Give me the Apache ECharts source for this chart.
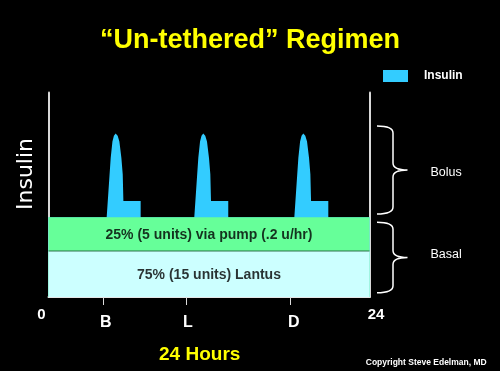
<!DOCTYPE html>
<html><head><meta charset="utf-8">
<script src="https://cdn.jsdelivr.net/npm/echarts@6/dist/echarts.min.js"></script>
<style>html,body{margin:0;padding:0;background:#000;}#c{width:500px;height:371px;}</style>
</head><body><div id="c"></div>
<script>
// ---- text ----
const titleText = '\u201CUn-tethered\u201D Regimen';
const xAxisTitle = '24 Hours';
const yAxisTitle = 'Insulin';
const copyrightText = 'Copyright Steve Edelman, MD';
const legendName = 'Insulin';

// ---- x axis (hours) ----
const xEndValues = [0, 24];
const xEndLabels = ['0', '24'];
const mealLabels = ['B', 'L', 'D'];
const mealTickHours = [4.10, 10.28, 18.11];
const mealLabelHours = [4.28, 10.43, 18.33];

// ---- bolus spikes (hours, insulin level) ----
const spike1Hours  = [4.35, 4.48, 4.65, 4.78, 4.89, 5.02, 5.17, 5.30, 5.45, 5.55, 5.60, 6.89, 6.89];
const spike1Values = [39, 51.6, 68, 76, 78.9, 80, 78.9, 76, 68, 60, 47, 47, 39];
const spike2Hours  = [10.90, 11.03, 11.20, 11.33, 11.44, 11.57, 11.72, 11.85, 12.00, 12.10, 12.15, 13.44, 13.44];
const spike2Values = [39, 51.6, 68, 76, 78.9, 80, 78.9, 76, 68, 60, 47, 47, 39];
const spike3Hours  = [18.38, 18.51, 18.68, 18.81, 18.92, 19.05, 19.20, 19.33, 19.48, 19.58, 19.63, 20.92, 20.92];
const spike3Values = [39, 51.6, 68, 76, 78.9, 80, 78.9, 76, 68, 60, 47, 47, 39];

// ---- basal bands ----
const lantusLevel = 22.5;
const pumpLevel = 39;
const bandLabels = ['25% (5 units) via pump (.2 u/hr)', '75% (15 units) Lantus'];
const bandLabelHours = [12, 12];
const bandLabelValues = [30.3, 10.9];

// ---- braces ----
const braceNames = ['Bolus', 'Basal'];
const braceTop = [83.6, 36.5];
const braceBottom = [40.6, 2.1];

const FONT = '"Liberation Sans", Arial, sans-serif';

const spikeData = [[0, pumpLevel]];
[[spike1Hours, spike1Values], [spike2Hours, spike2Values], [spike3Hours, spike3Values]].forEach(([h, v]) => {
  h.forEach((x, i) => spikeData.push([x, v[i]]));
});
spikeData.push([24, pumpLevel]);

function near(a, b) { return Math.abs(a - b) < 1e-6; }

const chart = echarts.init(document.getElementById('c'), null, {renderer: 'canvas'});
chart.setOption({
  backgroundColor: '#000',
  animation: false,
  title: {
    text: titleText, left: 'center', top: 22,
    textStyle: {color: '#ffff00', fontSize: 27, fontWeight: 'bold', fontFamily: FONT}
  },
  legend: {
    data: [legendName], left: 383, top: 70, padding: 0,
    icon: 'rect', itemWidth: 25, itemHeight: 12,
    textStyle: {color: '#fff', fontSize: 12, fontWeight: 'bold', fontFamily: FONT, padding: [0, 0, 0, 11]}
  },
  grid: {left: 48.5, right: 130.5, top: 92.5, bottom: 74},
  xAxis: {
    type: 'value', min: 0, max: 24,
    splitLine: {show: false},
    axisLine: {show: true, lineStyle: {color: '#e6e6e6', width: 2}},
    axisTick: {show: true, customValues: mealTickHours, length: 8, lineStyle: {color: '#ddd', width: 1}},
    axisLabel: {
      show: true, customValues: xEndValues.concat(mealLabelHours), margin: 10,
      color: '#fff', fontFamily: FONT,
      formatter: function (v) {
        for (let i = 0; i < xEndValues.length; i++) if (near(v, xEndValues[i])) return '{e' + i + '|' + xEndLabels[i] + '}';
        for (let i = 0; i < mealLabelHours.length; i++) if (near(v, mealLabelHours[i])) return '{m|' + mealLabels[i] + '}';
        return '';
      },
      rich: {
        e0: {fontSize: 15, fontWeight: 'bold', color: '#fff', fontFamily: FONT, padding: [0, 14, 0, 0]},
        e1: {fontSize: 15, fontWeight: 'bold', color: '#fff', fontFamily: FONT, padding: [0, 0, 0, 13]},
        m: {fontSize: 16, fontWeight: 'bold', color: '#fff', fontFamily: FONT, padding: [8, 0, 0, 0]}
      }
    }
  },
  yAxis: [
    {type: 'value', min: 0, max: 100, position: 'left',
     axisLine: {show: true, lineStyle: {color: '#d8d8d8', width: 2}},
     axisTick: {show: false}, axisLabel: {show: false}, splitLine: {show: false}},
    {type: 'value', min: 0, max: 100, position: 'right',
     axisLine: {show: true, lineStyle: {color: '#d8d8d8', width: 2}},
     axisTick: {show: false}, axisLabel: {show: false}, splitLine: {show: false}}
  ],
  series: [
    {
      name: legendName, type: 'line', z: 1, data: spikeData,
      showSymbol: false, symbol: 'none', smooth: false,
      itemStyle: {color: '#33ccff'},
      lineStyle: {width: 0, color: '#33ccff'},
      areaStyle: {color: '#33ccff', opacity: 1}
    },
    {
      name: 'pump', type: 'line', z: 2, data: [[0, pumpLevel], [24, pumpLevel]],
      symbol: 'none', lineStyle: {width: 0},
      areaStyle: {color: '#66ff99', opacity: 1}
    },
    {
      name: 'lantus', type: 'line', z: 3, data: [[0, lantusLevel], [24, lantusLevel]],
      symbol: 'none', lineStyle: {width: 1, color: '#2f7048'},
      areaStyle: {color: '#ccffff', opacity: 1}
    },
    {
      name: 'bandText', type: 'scatter', z: 4, symbolSize: 0,
      data: bandLabelHours.map((h, i) => [h, bandLabelValues[i]]),
      label: {
        show: true, position: 'inside', color: '#000', fontSize: 14, fontWeight: 'bold', fontFamily: FONT,
        formatter: p => bandLabels[p.dataIndex]
      },
      silent: true
    },
    {
      name: 'braces', type: 'custom', z: 5, clip: false,
      data: braceNames.map((n, i) => [braceTop[i], braceBottom[i]]),
      renderItem: function (params, api) {
        const t = api.coord([24, api.value(0)]);
        const b = api.coord([24, api.value(1)]);
        const x0 = t[0] + 7.5, x1 = x0 + 16, x2 = x0 + 30.5;
        const yt = t[1], yb = b[1], ym = (yt + yb) / 2, r = 7;
        const d = 'M' + x0 + ',' + yt +
          ' Q' + x1 + ',' + yt + ' ' + x1 + ',' + (yt + r) +
          ' L' + x1 + ',' + (ym - r) +
          ' Q' + x1 + ',' + ym + ' ' + x2 + ',' + ym +
          ' Q' + x1 + ',' + ym + ' ' + x1 + ',' + (ym + r) +
          ' L' + x1 + ',' + (yb - r) +
          ' Q' + x1 + ',' + yb + ' ' + x0 + ',' + yb;
        return {
          type: 'group',
          children: [
            {type: 'path', shape: {pathData: d}, style: {stroke: '#fff', lineWidth: 1.5, fill: null}},
            {type: 'text', style: {text: braceNames[params.dataIndex], x: x2 + 23, y: ym + (params.dataIndex === 0 ? 2.5 : -2.5),
              fill: '#fff', font: '12.5px ' + FONT, align: 'left', verticalAlign: 'middle'}}
          ]
        };
      },
      silent: true
    }
  ],
  graphic: [
    {type: 'text', x: 25.8, y: 174, rotation: Math.PI / 2,
     style: {text: yAxisTitle, fill: '#fff', font: '22px "DejaVu Sans", sans-serif', align: 'center', verticalAlign: 'middle'}},
    {type: 'text', x: 199.7, y: 354.7,
     style: {text: xAxisTitle, fill: '#ffff00', font: 'bold 19px ' + FONT, align: 'center', verticalAlign: 'middle'}},
    {type: 'text', x: 426.2, y: 362.5,
     style: {text: copyrightText, fill: '#fff', font: 'bold 8.5px ' + FONT, align: 'center', verticalAlign: 'middle'}}
  ]
});
</script></body></html>
